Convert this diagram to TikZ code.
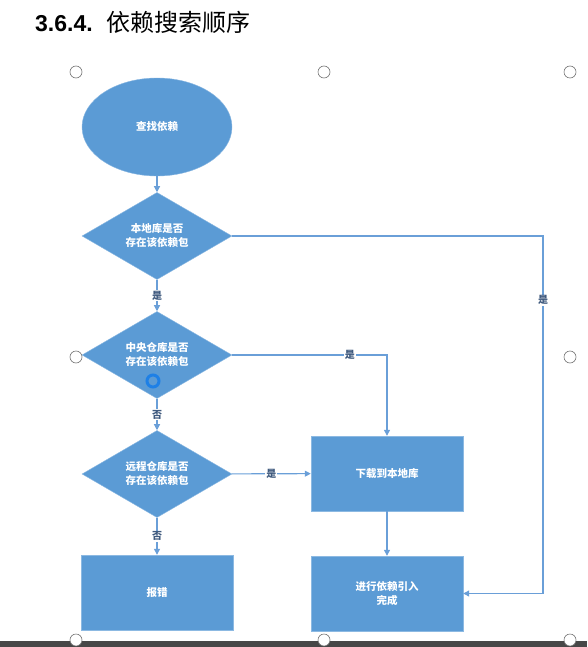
\documentclass[tikz,border=0pt]{standalone}
\usepackage{fontspec}
\setmainfont{Liberation Sans}
\newfontfamily\cjk{Noto Sans CJK SC}
\usetikzlibrary{arrows.meta,shapes.geometric}
\definecolor{flowblue}{HTML}{5B9BD5}
\definecolor{linkblue}{HTML}{6A9FD8}
\definecolor{labelblue}{HTML}{3F5A7E}

\begin{document}
\begin{tikzpicture}[x=1pt,y=-1pt,>={Triangle[length=6pt,width=6pt]},
  shapetext/.style={fill=flowblue,draw=flowblue!70!white,text=white,
    font=\cjk\bfseries\fontsize{10.5}{14}\selectfont,align=center,inner sep=0pt},
  startnode/.style={shapetext,ellipse,minimum width=150pt,minimum height=98pt},
  decision/.style={shapetext,diamond,minimum width=150pt,minimum height=77pt},
  actbox/.style={shapetext,rectangle,minimum width=152pt,minimum height=75pt},
  link/.style={draw=linkblue,line width=1.1pt,->},
  lbl/.style={fill=white,inner sep=1pt,text=labelblue,
    font=\cjk\bfseries\fontsize{10}{11}\selectfont},
  handle/.style={draw=black!55,fill=white,line width=0.6pt}]
  \useasboundingbox (0,0) rectangle (587,647);

  % title
  \node[anchor=base west,inner sep=0pt] (title) at (35,32)
    {\fontsize{23}{26}\selectfont\textbf{3.6.4.}\hspace{14pt}{\cjk\fontsize{24}{26}\selectfont 依赖搜索顺序}};

  % flow
  \node[startnode] (find) at (157,127) {查找依赖};
  \node[decision] (local) at (157,236) {本地库是否\\存在该依赖包};
  \node[decision] (central) at (157,355) {中央仓库是否\\存在该依赖包};
  \node[decision] (remote) at (157,474) {远程仓库是否\\存在该依赖包};
  \node[actbox] (error) at (157,592.5) {报错};
  \node[actbox] (download) at (387,473.5) {下载到本地库};
  \node[actbox] (done) at (387,593.5) {进行依赖引入\\完成};
  \coordinate (rail) at (543,0);

  \draw[link] (find) -- (local);
  \draw[link] (local) -- node[lbl] {是} (central);
  \draw[link] (central) -- node[lbl] {否} (remote);
  \draw[link] (remote) -- node[lbl] {否} (error);
  \draw[link] (remote) -- node[lbl] {是} (download);
  \draw[link] (central.east) -| node[lbl,pos=0.38] {是} (download.north);
  \draw[link] (download) -- (done);
  \draw[link] (local.east) -- (local.east -| rail)
    -- node[lbl,pos=0.18] {是} (done.east -| rail) -- (done.east);

  % screen bits
  \fill[black!72] (0,641) rectangle (587,647);
  \foreach \hx/\hy in {76/72,324/72,570/72,76/357,570/357,76/640,324/640,570/640}
    \draw[handle] (\hx,\hy) circle (6pt);
  \draw[draw={rgb,255:red,30;green,128;blue,230},line width=3pt] (153,381) circle (6pt);
\end{tikzpicture}
\end{document}
